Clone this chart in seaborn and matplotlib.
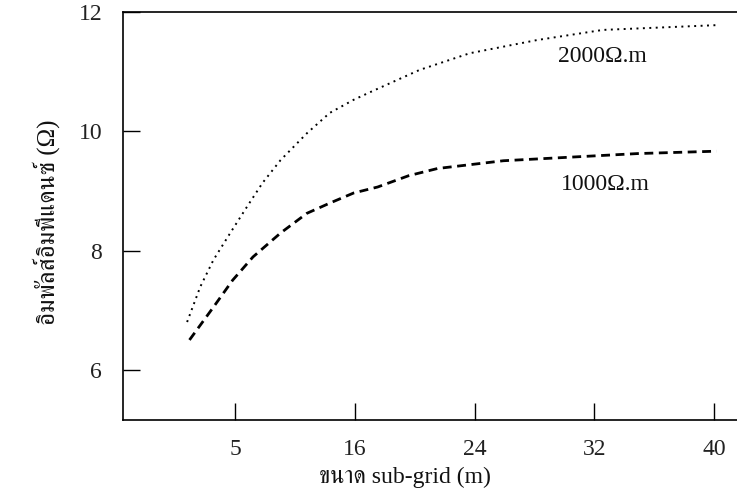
import matplotlib
matplotlib.use("Agg")
import matplotlib.pyplot as plt
import seaborn as sns
import pandas as pd

# ---- data (x in tick-slot units: 0 -> "5", 1 -> "16", ... 4 -> "40") ----
tick_pos = [0, 1, 2, 3, 4]
tick_labels = ["5", "16", "24", "32", "40"]
y_ticks = [6, 8, 10, 12]

x_2000 = [-0.40, -0.29, -0.18, -0.04, 0.10, 0.23, 0.38, 0.60, 0.79, 0.99,
          1.13, 1.54, 1.96, 2.52, 3.07, 4.02]
y_2000 = [6.81, 7.40, 7.85, 8.30, 8.74, 9.14, 9.52, 9.97, 10.31, 10.53,
          10.66, 11.03, 11.31, 11.53, 11.70, 11.78]

x_1000 = [-0.38, -0.18, -0.02, 0.15, 0.38, 0.60, 0.79, 0.99, 1.19, 1.45, 1.69,
          2.24, 2.80, 3.36, 4.02]
y_1000 = [6.51, 7.06, 7.51, 7.90, 8.30, 8.63, 8.80, 8.97, 9.07, 9.26, 9.38,
          9.51, 9.57, 9.63, 9.67]

label_2000 = "2000Ω.m"
label_1000 = "1000Ω.m"
x_title = "ขนาด sub-grid (m)"
y_title = "อิมพัลส์อิมพีแดนซ์ (Ω)"

df2000 = pd.DataFrame({"x": x_2000, "y": y_2000})
df1000 = pd.DataFrame({"x": x_1000, "y": y_1000})

sns.set_theme(style="white")
plt.rcParams["font.family"] = ["Liberation Serif", "FreeSerif"]

fig = plt.figure(figsize=(7.37, 4.96), dpi=100)
ax = fig.add_axes([123 / 737, 1 - 420 / 496, 614 / 737, 408 / 496])

sns.lineplot(data=df2000, x="x", y="y", ax=ax, color="black", lw=1.4,
             linestyle=(0, (1.0, 2.3)), sort=False)
sns.lineplot(data=df1000, x="x", y="y", ax=ax, color="black", lw=2.0,
             linestyle=(0, (3.2, 2.0)), sort=False)

ax.text(3.07, 11.26, label_2000, ha="center", va="center", fontsize=17, color="#111111")
ax.text(3.09, 9.12, label_1000, ha="center", va="center", fontsize=17, color="#111111")

ax.set_xlim(-0.935, 4.19)
ax.set_ylim(5.17, 12.0)
ax.set_xticks(tick_pos)
ax.set_xticklabels(tick_labels)
ax.set_yticks(y_ticks)
ax.set_yticklabels([str(v) for v in y_ticks])

ax.tick_params(axis="both", direction="in", length=12, width=1.0, color="black",
               labelsize=17, labelcolor="#222222", bottom=True, left=True,
               top=False, right=False)
ax.tick_params(axis="x", pad=14)
ax.tick_params(axis="y", pad=15)

for side in ["top", "left", "bottom"]:
    ax.spines[side].set_visible(True)
    ax.spines[side].set_color("black")
    ax.spines[side].set_linewidth(1.2)
ax.spines["right"].set_visible(False)

ax.set_xlabel(x_title, fontsize=17, color="#111111")
ax.set_ylabel(y_title, fontsize=18, color="#111111")
ax.xaxis.set_label_coords((405 - 123) / 614, (420 - 467) / 408)
ax.yaxis.set_label_coords((60 - 123) / 614, (420 - 222) / 408)

ax.set_facecolor("white")
fig.patch.set_facecolor("white")
fig.savefig("out.png", dpi=100)
